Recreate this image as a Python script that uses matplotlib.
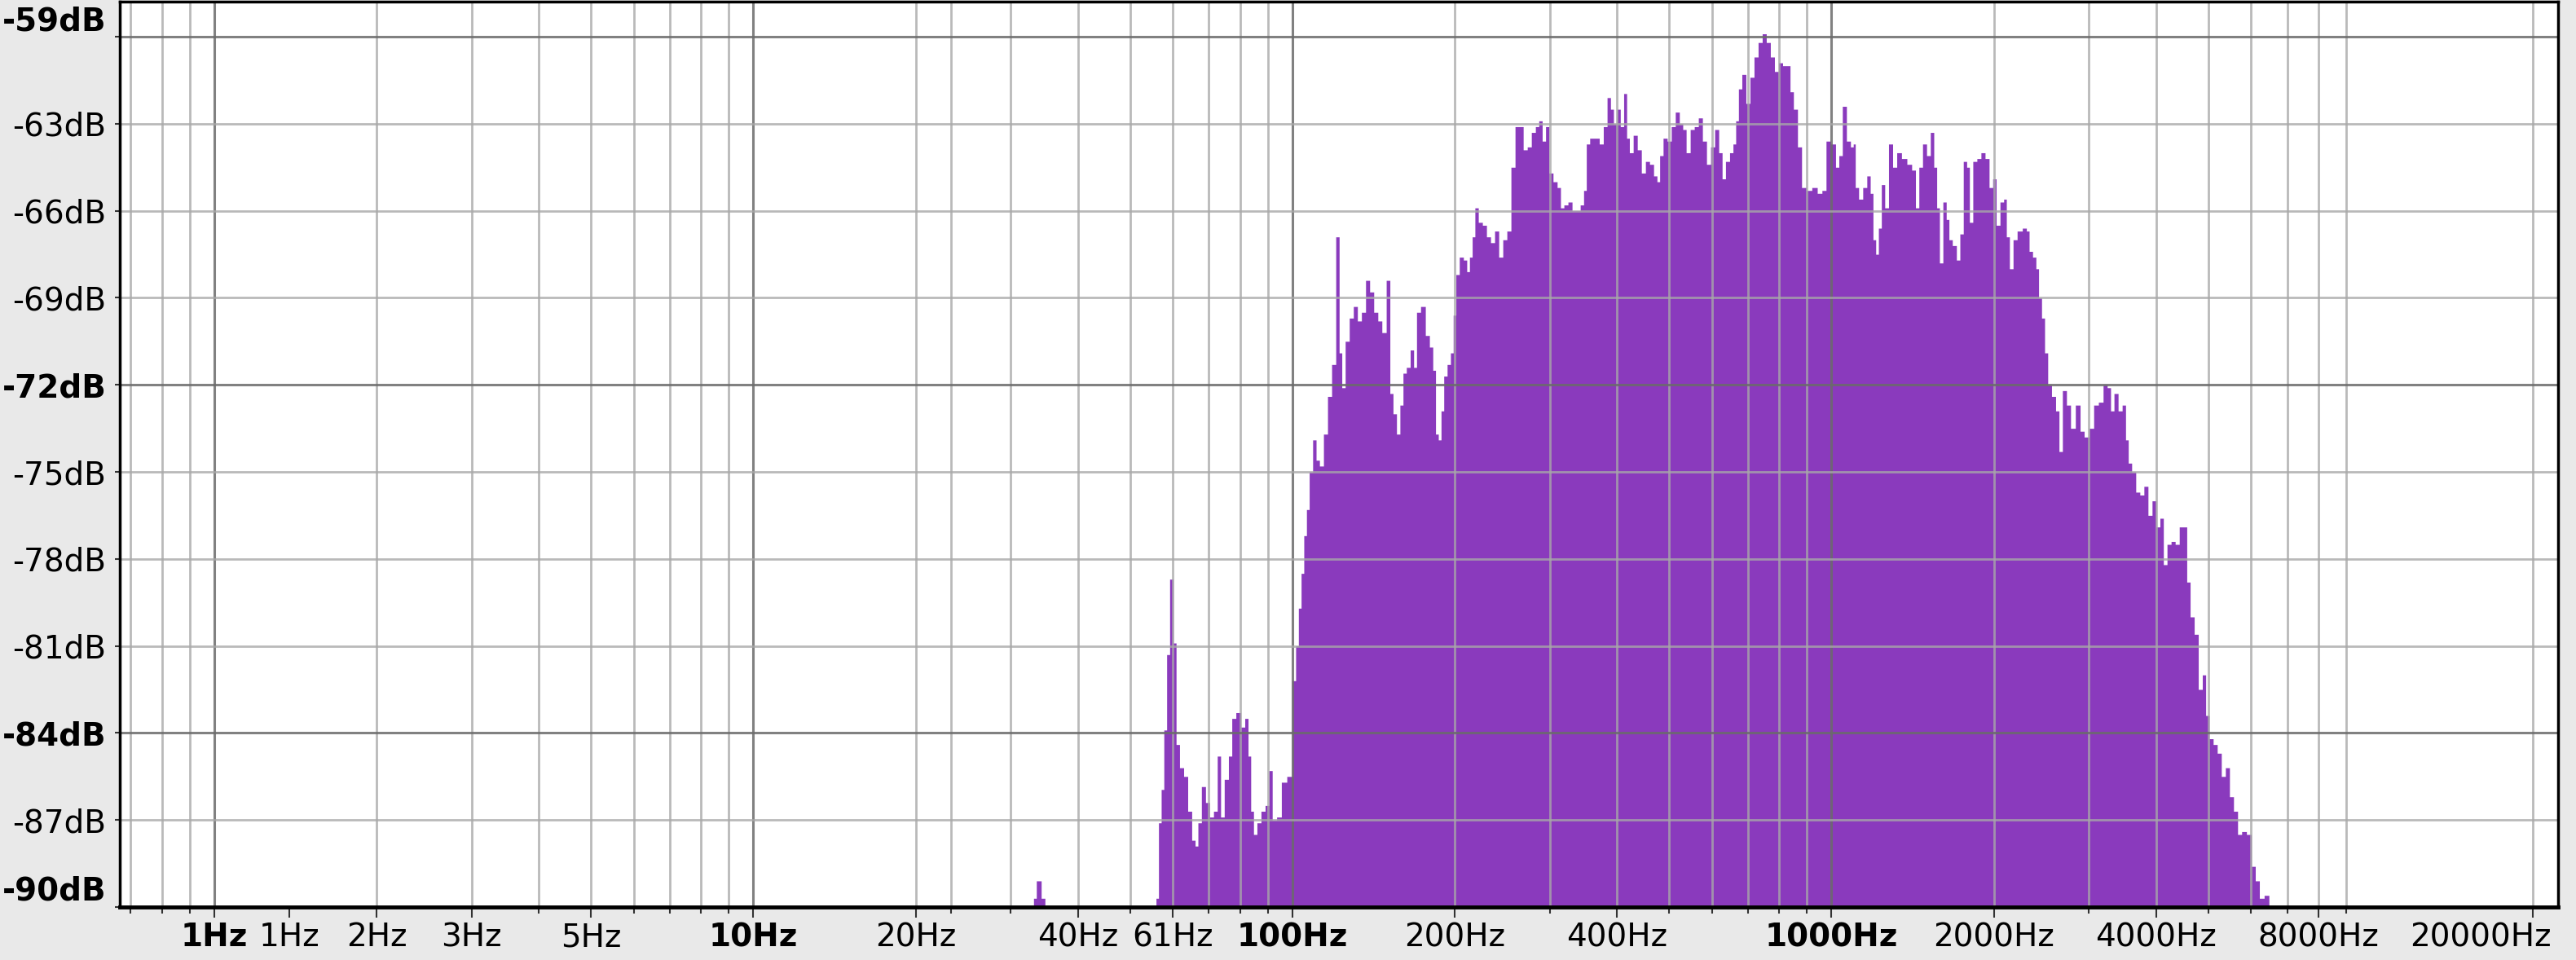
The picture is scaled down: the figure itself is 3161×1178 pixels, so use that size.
import matplotlib.pyplot as plt
from matplotlib.transforms import ScaledTranslation

freq_hz = [
    33.1, 33.9, 34.5, 35.0, 55.6,
    56.1, 56.8, 57.4, 58.1, 58.8, 59.6, 60.5, 61.2, 62.3, 63.4, 64.5, 65.6, 66.4, 67.2, 68.4,
    69.6, 70.8, 72.0, 73.1, 74.1, 75.4, 76.8, 77.6, 79.5, 80.9, 82.3, 83.2, 84.2, 85.2, 86.7,
    88.2, 89.8, 91.1, 92.4, 94.6, 96.2, 99.1, 100.8, 102.0, 103.2, 104.4, 105.6, 106.8, 108.1,
    110.0, 111.3, 113.2, 115.2, 117.2, 119.3, 121.4, 122.8, 124.2, 126.4, 128.6, 130.9, 133.1,
    135.5, 137.9, 140.3, 142.8, 145.3, 147.8, 150.8, 152.5, 154.9, 157.1, 159.5, 161.3, 164.1,
    166.7, 169.0, 170.9, 174.9, 178.0, 181.1, 183.2, 185.4,
    187.6, 189.8, 192.0, 195.3, 197.6, 199.9, 202.2, 205.8, 209.4, 211.8, 214.3, 216.8, 219.3,
    223.2, 227.1, 231.1, 235.1, 239.3, 243.5, 247.8, 252.1, 256.6, 261.1, 265.7, 270.3, 275.1,
    279.9, 284.8, 288.1, 293.2, 296.6, 301.8, 307.1, 312.5, 316.1, 321.7, 327.3, 333.1, 338.9,
    344.9, 348.9, 353.0, 359.2, 367.6, 374.1, 380.6, 386.4, 391.8, 396.4, 403.4, 408.1, 415.2,
    418.6, 425.0, 432.5, 440.1, 447.8, 455.7, 463.7, 471.8, 477.3, 482.9, 491.4, 500.0, 508.8,
    517.6, 526.7, 532.9, 542.2, 551.7, 561.4, 571.2, 581.3, 591.5, 601.9, 612.4, 623.2, 630.4,
    641.5, 652.8, 660.4, 668.2, 676.0, 687.9, 699.8, 712.1, 724.6, 737.4, 750.3, 763.5, 776.9,
    790.7, 804.5, 818.7, 833.0, 842.6, 857.4, 872.5, 887.8, 908.8, 930.3, 951.7, 968.5, 985.6,
    1009, 1026, 1038, 1057, 1075, 1094,
    1101, 1113, 1133, 1153, 1173, 1187, 1201, 1215, 1229, 1246, 1265, 1287, 1310, 1333, 1364,
    1396, 1421, 1442, 1463, 1488, 1514, 1537, 1559, 1576, 1596, 1623, 1642, 1661, 1690, 1720,
    1741, 1771, 1792, 1813, 1845, 1877, 1910, 1944, 1977, 2005, 2036, 2072, 2101, 2120, 2157,
    2187, 2233, 2286, 2312, 2340, 2381, 2408, 2436, 2470, 2500, 2537, 2582, 2627, 2658, 2705,
    2752, 2801, 2867, 2917, 2968, 3038, 3091, 3163, 3218, 3275, 3313, 3372, 3431, 3491, 3532,
    3573, 3636, 3700, 3765, 3831, 3898, 3967, 4036, 4098, 4156, 4228, 4303, 4378, 4456, 4534,
    4587, 4667, 4749, 4832, 4916, 4973, 5061, 5149, 5240, 5332, 5426, 5521, 5617, 5716, 5816,
    5954, 6058, 6165, 6273, 6421, 6534,
]
level_db = [
    -89.7, -89.1, -89.7, -90.0, -90.0,
    -89.7, -87.1, -85.95, -83.9, -81.3, -78.7, -80.9, -84.4, -85.2, -85.5, -86.7, -87.7, -87.9, -87.1, -85.85,
    -86.4, -86.9, -86.7, -84.8, -86.9, -85.6, -84.8, -83.5, -83.3, -83.8, -83.5, -84.8, -86.7, -87.5, -87.1,
    -86.7, -86.5, -85.3, -87.0, -86.9, -85.7, -85.5, -82.2, -81.0, -79.7, -78.5, -77.2, -76.3, -75.0,
    -73.9, -74.6, -74.8, -73.7, -72.4, -71.3, -66.9, -70.9, -72.1, -70.5, -69.7, -69.3, -69.8,
    -69.5, -68.4, -68.8, -69.5, -69.8, -70.2, -68.4, -72.3, -73.0, -73.7, -72.7, -71.6, -71.4,
    -70.8, -71.4, -69.5, -69.3, -70.3, -70.7, -71.5, -73.7,
    -73.9, -72.9, -71.7, -71.3, -70.9, -69.6, -68.2, -67.6, -67.7, -68.1, -67.6, -66.9, -65.9,
    -66.4, -66.5, -66.9, -67.1, -66.7, -67.6, -67.0, -66.7, -64.5, -63.1, -63.1, -63.9, -63.8,
    -63.3, -63.1, -62.9, -63.6, -63.1, -64.7, -65.0, -65.2, -65.9, -65.8, -65.7, -66.0, -66.0,
    -65.8, -65.3, -63.7, -63.5, -63.5, -63.7, -63.1, -62.1, -62.5, -63.0, -62.5, -63.1, -61.96,
    -63.5, -64.0, -63.4, -63.9, -64.7, -64.3, -64.4, -64.8, -65.0, -64.1, -63.5, -63.6, -63.1,
    -62.6, -63.0, -63.2, -64.0, -63.2, -63.1, -62.8, -63.6, -64.4, -63.8, -63.2, -64.0, -64.9,
    -64.3, -64.0, -63.7, -62.9, -61.8, -61.3, -62.3, -61.4, -60.7, -60.2, -59.9, -60.2, -60.7,
    -61.2, -60.9, -61.0, -61.0, -61.9, -62.5, -63.8, -65.2, -65.3, -65.2, -65.4, -65.3, -63.6,
    -63.7, -64.5, -64.1, -62.4, -63.6, -63.8,
    -63.7, -65.2, -65.6, -65.2, -64.8, -65.4, -67.0, -67.5, -66.6, -65.1, -65.9, -63.7, -64.5, -64.0, -64.2,
    -64.4, -64.6, -65.9, -64.5, -63.7, -64.1, -63.3, -64.5, -65.9, -67.8, -65.7, -66.3, -67.0, -67.2, -67.7,
    -66.8, -64.3, -64.5, -66.4, -64.3, -64.2, -64.0, -64.2, -65.2, -64.9, -66.5, -65.7, -65.6, -66.9, -68.0,
    -67.0, -66.7, -66.6, -66.7, -67.4, -67.6, -68.0, -69.0, -69.7, -70.9, -72.0, -72.4, -72.9, -74.3, -72.2,
    -72.7, -73.5, -72.7, -73.6, -73.8, -73.5, -72.7, -72.6, -72.0, -72.1, -72.9, -72.3, -72.9, -72.7, -73.9,
    -74.7, -75.0, -75.7, -75.8, -75.5, -76.5, -76.0, -76.9, -76.6, -78.2, -77.5, -77.4, -77.5, -76.9, -76.9,
    -78.8, -80.0, -80.6, -82.5, -82.0, -83.4, -84.2, -84.4, -84.7, -85.5, -85.2, -86.2, -86.7, -87.5, -87.4,
    -87.5, -88.6, -89.1, -89.7, -89.6, -90.0,
]

# Graduations
x_tick_hz = [1, 1.38, 2, 3, 5, 10, 20, 40, 60, 100, 200, 400, 1000, 2000, 4000, 8000, 20000]
x_tick_labels = ['1Hz', '1Hz', '2Hz', '3Hz', '5Hz', '10Hz', '20Hz', '40Hz', '61Hz', '100Hz',
                 '200Hz', '400Hz', '1000Hz', '2000Hz', '4000Hz', '8000Hz', '20000Hz']
x_bold_idx = [0, 5, 9, 12]
grid_hz_major = [1, 10, 100, 1000]
grid_hz_minor = [0.7, 0.8, 0.9, 2, 3, 4, 5, 6, 7, 8, 9, 20, 23.3, 30, 40, 50, 60, 70, 80, 90,
                 200, 300, 400, 500, 600, 700, 800, 900,
                 2000, 3000, 4000, 5000, 6000, 7000, 8000, 9000, 20000]
y_tick_db = [-60, -63, -66, -69, -72, -75, -78, -81, -84, -87, -90]
y_tick_labels = ['-59dB', '-63dB', '-66dB', '-69dB', '-72dB', '-75dB', '-78dB', '-81dB',
                 '-84dB', '-87dB', '-90dB']
y_bold = ['-59dB', '-72dB', '-84dB', '-90dB']
grid_db_major = [-60, -72, -84]

purple = '#8a3abd'
grid_minor_col = (0.66, 0.66, 0.66, 0.8)
grid_major_col = (0.42, 0.42, 0.42, 0.85)

fig = plt.figure(figsize=(31.61, 11.78), dpi=100, facecolor='#e9e9e9')
ax = fig.add_axes([0.0465, 0.0552, 0.9465, 0.9431])
ax.set_facecolor('white')

ax.fill_between(freq_hz, level_db, -90, step='mid', color=purple, lw=0, zorder=1)

# grille par-dessus le spectre
for f in grid_hz_minor:
    ax.axvline(f, color=grid_minor_col, lw=2.0, zorder=2)
for f in grid_hz_major:
    ax.axvline(f, color=grid_major_col, lw=2.2, zorder=2)
for d in y_tick_db[:-1]:
    if d in grid_db_major:
        ax.axhline(d, color=grid_major_col, lw=2.2, zorder=2)
    else:
        ax.axhline(d, color=grid_minor_col, lw=2.0, zorder=2)

ax.set_xscale('log')
ax.set_xlim(0.668, 22260)
ax.set_ylim(-90, -58.79)

ax.set_xticks(x_tick_hz, x_tick_labels)
ax.set_xticks([f for f in grid_hz_minor if f not in x_tick_hz], minor=True)
ax.set_yticks(y_tick_db, y_tick_labels)
ax.xaxis.set_minor_formatter(plt.NullFormatter())
ax.yaxis.set_minor_locator(plt.NullLocator())

ax.tick_params(axis='x', which='major', length=9, width=1.5, pad=4, labelsize=28, color='#333333')
ax.tick_params(axis='x', which='minor', length=6, width=1.5, color='#333333')
ax.tick_params(axis='y', which='major', length=4, width=1.5, pad=8, labelsize=28, color='#333333')

xl = ax.get_xticklabels()
for i in x_bold_idx:
    xl[i].set_fontweight('bold')
# dernière étiquette calée à droite pour rester dans l'image
xl[-1].set_horizontalalignment('right')
xl[-1].set_transform(xl[-1].get_transform() + ScaledTranslation(0.23, 0, fig.dpi_scale_trans))

for lab in ax.get_yticklabels():
    if lab.get_text() in y_bold:
        lab.set_fontweight('bold')
    if lab.get_text() in ('-59dB', '-90dB'):
        lab.set_verticalalignment('bottom')

for side in ['left', 'top', 'right']:
    ax.spines[side].set_linewidth(2.5)
    ax.spines[side].set_zorder(3)
ax.spines['bottom'].set_linewidth(3.5)
ax.spines['bottom'].set_zorder(3)

fig.savefig('out.png', dpi=100, facecolor=fig.get_facecolor())
